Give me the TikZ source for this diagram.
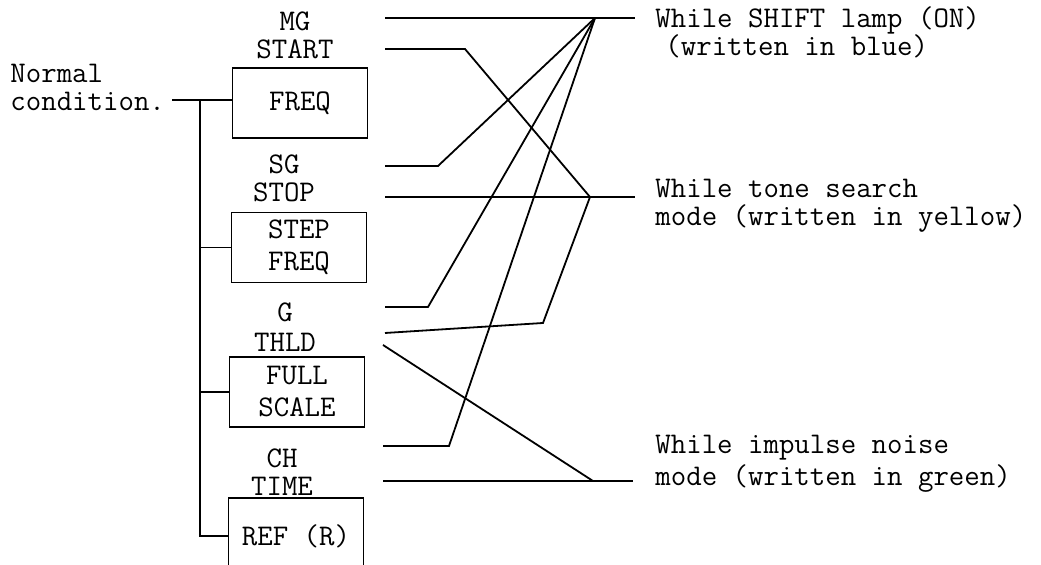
\documentclass[tikz,border=0pt]{standalone}
\usepackage{fontspec}
\usepackage{tikz}
\usetikzlibrary{positioning}
\tikzstyle{key} = [rectangle, draw=black, line width=0.9pt, minimum width=67.5pt, minimum height=35pt, inner sep=0pt, align=center]
\tikzstyle{lbl} = [inner sep=0pt, align=center]
\tikzstyle{mode} = [inner sep=0pt, align=left, anchor=west]
\tikzstyle{wire} = [line width=0.9pt]

\begin{document}
\begin{tikzpicture}[x=0.5pt, y=-0.5pt, font=\ttfamily\fontsize{15}{14}\selectfont]
\useasboundingbox (0,0) rectangle (1041,565);

\node (cond) [mode, align=left] at (10,87) {Normal\\condition.};

\node (freq) [key] at (300,103) {FREQ};
\node (step) [key] at (299,247.5) {STEP\\[2pt]FREQ};
\node (full) [key] at (297,392) {FULL\\[2pt]SCALE};
\node (ref) [key, minimum height=38pt] at (296,536) {REF (R)};

\node (mgst) [lbl] at (295,35) {MG\\START};
\node (sgst) [lbl] at (284,178) {SG\\STOP};
\node (gth) [lbl, font=\ttfamily\fontsize{15}{15}\selectfont] at (285,327) {G\\THLD};
\node (chti) [lbl] at (282,472) {CH\\TIME};

\node (shift) [mode] at (655,32) {While SHIFT lamp (ON)\\\hspace{5pt}(written in blue)};
\node (tone) [mode] at (655,206) {While tone search\\mode (written in yellow)};
\node (noise) [mode, font=\ttfamily\fontsize{15}{16}\selectfont] at (655,464) {While impulse noise\\mode (written in green)};

\coordinate (nc) at (172,100);
\coordinate (trunk) at (200,100);
\draw [wire] (nc) -- (freq.west |- nc);
\draw [wire] (trunk) |- (step.west);
\draw [wire] (trunk) |- (full.west);
\draw [wire] (trunk) |- (ref.west);

\coordinate (mg) at (385,18);
\coordinate (start) at (385,49);
\coordinate (sg) at (385,166);
\coordinate (stop) at (385,197);
\coordinate (g) at (385,307);
\coordinate (thld) at (385,333);
\coordinate (thldb) at (383,345);
\coordinate (ch) at (383,446);
\coordinate (time) at (383,481);

\coordinate (j1) at (595,18);
\coordinate (j2) at (590,197);
\coordinate (j3) at (593,481);
\coordinate (e1) at (635,18);
\coordinate (e2) at (635,197);
\coordinate (e3) at (633,481);

\draw [wire] (mg) -- (j1) -- (e1);
\draw [wire] (start) -- (465,49) -- (j2);
\draw [wire] (sg) -- (438,166) -- (j1);
\draw [wire] (stop) -- (j2) -- (e2);
\draw [wire] (g) -- (428,307) -- (j1);
\draw [wire] (thld) -- (543,323) -- (j2);
\draw [wire] (thldb) -- (j3);
\draw [wire] (ch) -- (449,446) -- (j1);
\draw [wire] (time) -- (j3) -- (e3);
\end{tikzpicture}
\end{document}
